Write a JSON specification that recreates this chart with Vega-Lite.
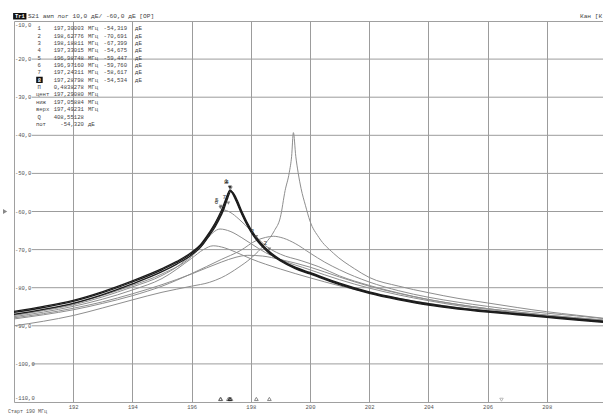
{
  "$schema": "https://vega.github.io/schema/vega-lite/v6.json",
  "width": 589,
  "height": 381,
  "autosize": {"type": "none"},
  "padding": {"left": 14, "top": 21, "right": 0, "bottom": 12},
  "background": "white",
  "config": {"view": {"stroke": "#a0a0a0", "strokeWidth": 1}, "font": "Liberation Mono", "text": {"font": "Liberation Mono"}},
  "datasets": {
    "curves": [
      {"s":"G5","f":190,"db":-87.9},{"s":"G5","f":191,"db":-86.8},{"s":"G5","f":192,"db":-85.4},{"s":"G5","f":193,"db":-83.7},{"s":"G5","f":194,"db":-81.6},{"s":"G5","f":195,"db":-79.2},{"s":"G5","f":196,"db":-76.4},{"s":"G5","f":197,"db":-73.3},{"s":"G5","f":197.5,"db":-72.0},{"s":"G5","f":197.9,"db":-71.5},{"s":"G5","f":198.4,"db":-71.7},{"s":"G5","f":199,"db":-72.6},{"s":"G5","f":200,"db":-74.6},{"s":"G5","f":201,"db":-77.2},{"s":"G5","f":202,"db":-79.6},{"s":"G5","f":203,"db":-81.5},{"s":"G5","f":204,"db":-83.1},{"s":"G5","f":205,"db":-84.4},{"s":"G5","f":206,"db":-85.5},{"s":"G5","f":207,"db":-86.4},{"s":"G5","f":208,"db":-87.2},{"s":"G5","f":209,"db":-87.9},{"s":"G5","f":209.9,"db":-88.5},
      {"s":"G4","f":190,"db":-88.2},{"s":"G4","f":191,"db":-87.1},{"s":"G4","f":192,"db":-85.8},{"s":"G4","f":193,"db":-84.1},{"s":"G4","f":194,"db":-82.1},{"s":"G4","f":195,"db":-79.6},{"s":"G4","f":196,"db":-76.3},{"s":"G4","f":197,"db":-72.6},{"s":"G4","f":197.64,"db":-70.3},{"s":"G4","f":198.19,"db":-67.6},{"s":"G4","f":198.5,"db":-66.8},{"s":"G4","f":198.76,"db":-66.5},{"s":"G4","f":199.1,"db":-67.0},{"s":"G4","f":199.5,"db":-68.4},{"s":"G4","f":200,"db":-70.9},{"s":"G4","f":200.5,"db":-73.3},{"s":"G4","f":201,"db":-75.3},{"s":"G4","f":202,"db":-78.5},{"s":"G4","f":203,"db":-80.8},{"s":"G4","f":204,"db":-82.5},{"s":"G4","f":205,"db":-83.8},{"s":"G4","f":206,"db":-84.9},{"s":"G4","f":207,"db":-85.9},{"s":"G4","f":208,"db":-86.7},{"s":"G4","f":209,"db":-87.4},{"s":"G4","f":209.9,"db":-88.1},
      {"s":"G3","f":190,"db":-87.6},{"s":"G3","f":191,"db":-86.4},{"s":"G3","f":192,"db":-84.9},{"s":"G3","f":193,"db":-83.0},{"s":"G3","f":194,"db":-80.6},{"s":"G3","f":195,"db":-77.6},{"s":"G3","f":196,"db":-72.3},{"s":"G3","f":196.4,"db":-70.0},{"s":"G3","f":196.73,"db":-69.0},{"s":"G3","f":197.1,"db":-69.5},{"s":"G3","f":197.5,"db":-70.7},{"s":"G3","f":198,"db":-72.4},{"s":"G3","f":199,"db":-75.1},{"s":"G3","f":200,"db":-77.4},{"s":"G3","f":201,"db":-79.5},{"s":"G3","f":202,"db":-81.3},{"s":"G3","f":203,"db":-82.8},{"s":"G3","f":204,"db":-84.1},{"s":"G3","f":205,"db":-85.2},{"s":"G3","f":206,"db":-86.1},{"s":"G3","f":207,"db":-86.9},{"s":"G3","f":208,"db":-87.6},{"s":"G3","f":209,"db":-88.3},{"s":"G3","f":209.9,"db":-88.9},
      {"s":"G2","f":190,"db":-87.3},{"s":"G2","f":191,"db":-86.0},{"s":"G2","f":192,"db":-84.5},{"s":"G2","f":193,"db":-82.4},{"s":"G2","f":194,"db":-79.8},{"s":"G2","f":195,"db":-76.8},{"s":"G2","f":195.6,"db":-74.0},{"s":"G2","f":196,"db":-71.3},{"s":"G2","f":196.5,"db":-67.2},{"s":"G2","f":196.96,"db":-64.6},{"s":"G2","f":197.3,"db":-65.2},{"s":"G2","f":197.7,"db":-66.9},{"s":"G2","f":198,"db":-68.4},{"s":"G2","f":198.5,"db":-70.8},{"s":"G2","f":199,"db":-72.6},{"s":"G2","f":200,"db":-75.3},{"s":"G2","f":201,"db":-77.9},{"s":"G2","f":202,"db":-80.1},{"s":"G2","f":203,"db":-81.9},{"s":"G2","f":204,"db":-83.4},{"s":"G2","f":205,"db":-84.7},{"s":"G2","f":206,"db":-85.7},{"s":"G2","f":207,"db":-86.6},{"s":"G2","f":208,"db":-87.4},{"s":"G2","f":209,"db":-88.1},{"s":"G2","f":209.9,"db":-88.7},
      {"s":"G1","f":190,"db":-87.0},{"s":"G1","f":191,"db":-85.8},{"s":"G1","f":192,"db":-84.2},{"s":"G1","f":193,"db":-82.0},{"s":"G1","f":194,"db":-79.4},{"s":"G1","f":195,"db":-76.4},{"s":"G1","f":196,"db":-71.8},{"s":"G1","f":196.5,"db":-67.4},{"s":"G1","f":196.8,"db":-63.0},{"s":"G1","f":197.07,"db":-59.6},{"s":"G1","f":197.3,"db":-60.2},{"s":"G1","f":197.6,"db":-62.0},{"s":"G1","f":198,"db":-65.0},{"s":"G1","f":198.5,"db":-69.0},{"s":"G1","f":199,"db":-71.2},{"s":"G1","f":199.7,"db":-72.9},{"s":"G1","f":200.3,"db":-74.5},{"s":"G1","f":201,"db":-76.9},{"s":"G1","f":202,"db":-79.4},{"s":"G1","f":203,"db":-81.4},{"s":"G1","f":204,"db":-83.1},{"s":"G1","f":205,"db":-84.4},{"s":"G1","f":206,"db":-85.5},{"s":"G1","f":207,"db":-86.4},{"s":"G1","f":208,"db":-87.2},{"s":"G1","f":209,"db":-87.9},{"s":"G1","f":209.9,"db":-88.5},
      {"s":"T","f":190,"db":-90.0},{"s":"T","f":191,"db":-88.8},{"s":"T","f":192,"db":-87.3},{"s":"T","f":193,"db":-85.3},{"s":"T","f":194,"db":-83.2},{"s":"T","f":195,"db":-81.2},{"s":"T","f":196,"db":-79.6},{"s":"T","f":196.6,"db":-78.6},{"s":"T","f":197,"db":-77.4},{"s":"T","f":197.6,"db":-74.6},{"s":"T","f":198,"db":-72.3},{"s":"T","f":198.5,"db":-68.3},{"s":"T","f":198.8,"db":-65.0},{"s":"T","f":199.0,"db":-61.5},{"s":"T","f":199.16,"db":-54.5},{"s":"T","f":199.3,"db":-49.8},{"s":"T","f":199.38,"db":-45.5},{"s":"T","f":199.44,"db":-39.3},{"s":"T","f":199.52,"db":-45.5},{"s":"T","f":199.6,"db":-49.8},{"s":"T","f":199.7,"db":-54.0},{"s":"T","f":199.85,"db":-58.5},{"s":"T","f":200.0,"db":-62.5},{"s":"T","f":200.3,"db":-66.8},{"s":"T","f":200.8,"db":-71.0},{"s":"T","f":201.5,"db":-75.0},{"s":"T","f":202,"db":-77.3},{"s":"T","f":203,"db":-79.6},{"s":"T","f":204,"db":-81.3},{"s":"T","f":205,"db":-82.8},{"s":"T","f":206,"db":-84.0},{"s":"T","f":207,"db":-85.2},{"s":"T","f":208,"db":-86.3},{"s":"T","f":209,"db":-87.2},{"s":"T","f":209.9,"db":-88.0},
      {"s":"M1","f":190,"db":-86.5},{"s":"M1","f":191,"db":-85.2},{"s":"M1","f":192,"db":-83.6},{"s":"M1","f":193,"db":-81.3},{"s":"M1","f":194,"db":-78.5},{"s":"M1","f":195,"db":-75.3},{"s":"M1","f":195.5,"db":-73.4},{"s":"M1","f":196,"db":-71.0},{"s":"M1","f":196.3,"db":-69.0},{"s":"M1","f":196.6,"db":-65.8},{"s":"M1","f":196.8,"db":-63.5},{"s":"M1","f":197.0,"db":-60.5},{"s":"M1","f":197.1,"db":-58.6},{"s":"M1","f":197.2,"db":-56.2},{"s":"M1","f":197.3,"db":-54.3},{"s":"M1","f":197.4,"db":-55.2},{"s":"M1","f":197.5,"db":-56.8},{"s":"M1","f":197.7,"db":-60.5},{"s":"M1","f":198.0,"db":-65.0},{"s":"M1","f":198.3,"db":-68.2},{"s":"M1","f":198.6,"db":-70.6},{"s":"M1","f":199.0,"db":-72.8},{"s":"M1","f":199.5,"db":-74.8},{"s":"M1","f":200,"db":-76.2},{"s":"M1","f":201,"db":-79.0},{"s":"M1","f":202,"db":-81.3},{"s":"M1","f":203,"db":-83.0},{"s":"M1","f":204,"db":-84.4},{"s":"M1","f":205,"db":-85.4},{"s":"M1","f":206,"db":-86.2},{"s":"M1","f":207,"db":-86.9},{"s":"M1","f":208,"db":-87.6},{"s":"M1","f":209,"db":-88.3},{"s":"M1","f":209.9,"db":-88.9},
      {"s":"M2","f":190,"db":-87.0},{"s":"M2","f":191,"db":-85.7},{"s":"M2","f":192,"db":-84.1},{"s":"M2","f":193,"db":-81.8},{"s":"M2","f":194,"db":-79.0},{"s":"M2","f":195,"db":-75.8},{"s":"M2","f":195.5,"db":-73.8},{"s":"M2","f":196,"db":-71.4},{"s":"M2","f":196.3,"db":-69.4},{"s":"M2","f":196.6,"db":-66.3},{"s":"M2","f":196.8,"db":-64.0},{"s":"M2","f":197.0,"db":-61.0},{"s":"M2","f":197.1,"db":-59.2},{"s":"M2","f":197.2,"db":-56.9},{"s":"M2","f":197.33,"db":-54.7},{"s":"M2","f":197.45,"db":-55.6},{"s":"M2","f":197.55,"db":-57.2},{"s":"M2","f":197.7,"db":-60.0},{"s":"M2","f":198.0,"db":-64.6},{"s":"M2","f":198.3,"db":-67.9},{"s":"M2","f":198.6,"db":-70.3},{"s":"M2","f":199.0,"db":-72.6},{"s":"M2","f":199.5,"db":-74.6},{"s":"M2","f":200,"db":-76.0},{"s":"M2","f":201,"db":-78.8},{"s":"M2","f":202,"db":-81.1},{"s":"M2","f":203,"db":-82.8},{"s":"M2","f":204,"db":-84.2},{"s":"M2","f":205,"db":-85.3},{"s":"M2","f":206,"db":-86.1},{"s":"M2","f":207,"db":-86.8},{"s":"M2","f":208,"db":-87.5},{"s":"M2","f":209,"db":-88.2},{"s":"M2","f":209.9,"db":-88.8},
      {"s":"M3","f":190,"db":-86.2},{"s":"M3","f":191,"db":-84.9},{"s":"M3","f":192,"db":-83.3},{"s":"M3","f":193,"db":-81.0},{"s":"M3","f":194,"db":-78.2},{"s":"M3","f":195,"db":-75.0},{"s":"M3","f":195.5,"db":-73.1},{"s":"M3","f":196,"db":-70.7},{"s":"M3","f":196.3,"db":-68.7},{"s":"M3","f":196.6,"db":-65.5},{"s":"M3","f":196.8,"db":-63.0},{"s":"M3","f":197.0,"db":-59.9},{"s":"M3","f":197.1,"db":-57.9},{"s":"M3","f":197.2,"db":-55.8},{"s":"M3","f":197.29,"db":-54.5},{"s":"M3","f":197.4,"db":-55.5},{"s":"M3","f":197.5,"db":-57.2},{"s":"M3","f":197.7,"db":-60.8},{"s":"M3","f":198.0,"db":-65.3},{"s":"M3","f":198.3,"db":-68.5},{"s":"M3","f":198.6,"db":-70.8},{"s":"M3","f":199.0,"db":-73.0},{"s":"M3","f":199.5,"db":-75.0},{"s":"M3","f":200,"db":-76.4},{"s":"M3","f":201,"db":-79.2},{"s":"M3","f":202,"db":-81.5},{"s":"M3","f":203,"db":-83.2},{"s":"M3","f":204,"db":-84.6},{"s":"M3","f":205,"db":-85.6},{"s":"M3","f":206,"db":-86.4},{"s":"M3","f":207,"db":-87.1},{"s":"M3","f":208,"db":-87.8},{"s":"M3","f":209,"db":-88.5},{"s":"M3","f":209.9,"db":-89.1}
    ],
    "markers": [
      {"m":"1","f":197.30003,"db":-54.319,"act":"n"},
      {"m":"2","f":198.62776,"db":-70.691,"act":"n"},
      {"m":"3","f":198.18811,"db":-67.399,"act":"n"},
      {"m":"4","f":197.33015,"db":-54.675,"act":"n"},
      {"m":"5","f":196.98748,"db":-59.447,"act":"n"},
      {"m":"6","f":196.9716,"db":-59.76,"act":"n"},
      {"m":"7","f":197.24311,"db":-58.617,"act":"n"},
      {"m":"8","f":197.28798,"db":-54.534,"act":"y"}
    ],
    "tleft": [
      {"f":190.79,"db":-11.92,"t":"1"},{"f":190.79,"db":-13.85,"t":"2"},{"f":190.79,"db":-15.77,"t":"3"},{"f":190.79,"db":-17.70,"t":"4"},{"f":190.79,"db":-19.63,"t":"5"},{"f":190.79,"db":-21.56,"t":"6"},{"f":190.79,"db":-23.49,"t":"7"},
      {"f":190.79,"db":-27.35,"t":"П"},{"f":190.74,"db":-29.28,"t":"цент"},{"f":190.74,"db":-31.21,"t":"ниж"},{"f":190.74,"db":-33.14,"t":"верх"},{"f":190.79,"db":-35.07,"t":"Q"},{"f":190.74,"db":-36.99,"t":"пот"},
      {"f":192.5,"db":-11.92,"t":"МГц"},{"f":192.5,"db":-13.85,"t":"МГц"},{"f":192.5,"db":-15.77,"t":"МГц"},{"f":192.5,"db":-17.70,"t":"МГц"},{"f":192.5,"db":-19.63,"t":"МГц"},{"f":192.5,"db":-21.56,"t":"МГц"},{"f":192.5,"db":-23.49,"t":"МГц"},{"f":192.5,"db":-25.42,"t":"МГц"},
      {"f":192.5,"db":-27.35,"t":"МГц"},{"f":192.5,"db":-29.28,"t":"МГц"},{"f":192.5,"db":-31.21,"t":"МГц"},{"f":192.5,"db":-33.14,"t":"МГц"},{"f":192.5,"db":-36.99,"t":"дБ"},
      {"f":194.09,"db":-11.92,"t":"дБ"},{"f":194.09,"db":-13.85,"t":"дБ"},{"f":194.09,"db":-15.77,"t":"дБ"},{"f":194.09,"db":-17.70,"t":"дБ"},{"f":194.09,"db":-19.63,"t":"дБ"},{"f":194.09,"db":-21.56,"t":"дБ"},{"f":194.09,"db":-23.49,"t":"дБ"},{"f":194.09,"db":-25.42,"t":"дБ"}
    ],
    "tright": [
      {"f":192.36,"db":-11.92,"t":"197,30003"},{"f":192.36,"db":-13.85,"t":"198,62776"},{"f":192.36,"db":-15.77,"t":"198,18811"},{"f":192.36,"db":-17.70,"t":"197,33015"},{"f":192.36,"db":-19.63,"t":"196,98748"},{"f":192.36,"db":-21.56,"t":"196,97160"},{"f":192.36,"db":-23.49,"t":"197,24311"},{"f":192.36,"db":-25.42,"t":"197,28798"},
      {"f":192.36,"db":-27.35,"t":"0,4838278"},{"f":192.36,"db":-29.28,"t":"197,29080"},{"f":192.36,"db":-31.21,"t":"197,05884"},{"f":192.36,"db":-33.14,"t":"197,49231"},{"f":192.36,"db":-35.07,"t":"408,55128"},{"f":192.36,"db":-36.99,"t":"-54,320"},
      {"f":193.82,"db":-11.92,"t":"-54,319"},{"f":193.82,"db":-13.85,"t":"-70,691"},{"f":193.82,"db":-15.77,"t":"-67,399"},{"f":193.82,"db":-17.70,"t":"-54,675"},{"f":193.82,"db":-19.63,"t":"-59,447"},{"f":193.82,"db":-21.56,"t":"-59,760"},{"f":193.82,"db":-23.49,"t":"-58,617"},{"f":193.82,"db":-25.42,"t":"-54,534"}
    ]
  },
  "encoding": {
    "x": {"field": "f", "type": "quantitative", "scale": {"domain": [190, 209.9], "nice": false, "zero": false},
      "axis": {"values": [192, 194, 196, 198, 200, 202, 204, 206, 208], "grid": true, "gridColor": "#9c9c9c", "gridWidth": 1, "ticks": false, "domain": false, "labelFontSize": 5.5, "labelFont": "Liberation Mono", "labelColor": "#555555", "labelPadding": 2, "title": null, "format": "d"}},
    "y": {"field": "db", "type": "quantitative", "scale": {"domain": [-110, -10], "nice": false, "zero": false}, "axis": null}
  },
  "layer": [
    {
      "data": {"values": [{"f":190.6,"f2":209.9,"db":-20},{"f":190.6,"f2":209.9,"db":-30},{"f":190.6,"f2":209.9,"db":-40},{"f":190.6,"f2":209.9,"db":-50},{"f":190.6,"f2":209.9,"db":-60},{"f":190.6,"f2":209.9,"db":-70},{"f":190.6,"f2":209.9,"db":-80},{"f":190.6,"f2":209.9,"db":-90},{"f":190.6,"f2":209.9,"db":-100}]},
      "mark": {"type": "rule", "color": "#9c9c9c", "strokeWidth": 1},
      "encoding": {"x2": {"field": "f2"}}
    },
    {
      "data": {"values": [{"f":190.03,"db":-11.05,"t":"-10,0"},{"f":190.03,"db":-20,"t":"-20,0"},{"f":190.03,"db":-30,"t":"-30,0"},{"f":190.03,"db":-40,"t":"-40,0"},{"f":190.03,"db":-50,"t":"-50,0"},{"f":190.03,"db":-60,"t":"-60,0"},{"f":190.03,"db":-70,"t":"-70,0"},{"f":190.03,"db":-80,"t":"-80,0"},{"f":190.03,"db":-90,"t":"-90,0"},{"f":190.03,"db":-100,"t":"-100,0"},{"f":190.03,"db":-108.95,"t":"-110,0"}]},
      "mark": {"type": "text", "align": "left", "baseline": "middle", "fontSize": 5.5, "color": "#555555"},
      "encoding": {"text": {"field": "t"}}
    },
    {
      "data": {"name": "curves"},
      "transform": [{"filter": "indexof(['M1','M2','M3'], datum.s) < 0"}],
      "mark": {"type": "line", "interpolate": "monotone", "color": "#8e8e8e", "strokeWidth": 1},
      "encoding": {"detail": {"field": "s"}}
    },
    {
      "data": {"name": "curves"},
      "transform": [{"filter": "indexof(['M1','M2','M3'], datum.s) >= 0"}],
      "mark": {"type": "line", "interpolate": "monotone", "color": "#1c1c1c", "strokeWidth": 1.3},
      "encoding": {"detail": {"field": "s"}}
    },
    {
      "data": {"name": "markers"},
      "mark": {"type": "point", "shape": "triangle-down", "size": 14, "filled": true, "yOffset": -3},
      "encoding": {"color": {"field": "act", "type": "nominal", "scale": {"domain": ["n", "y"], "range": ["#555555", "#111111"]}, "legend": null}}
    },
    {
      "data": {"name": "markers"},
      "mark": {"type": "text", "fontSize": 6, "color": "#333333", "dx": -4, "dy": -9},
      "encoding": {"text": {"field": "m"}}
    },
    {
      "data": {"name": "markers"},
      "mark": {"type": "point", "shape": "triangle-up", "size": 14, "filled": false, "strokeWidth": 1},
      "encoding": {"y": {"datum": -109.2, "type": "quantitative"}, "color": {"field": "act", "type": "nominal", "scale": {"domain": ["n", "y"], "range": ["#555555", "#111111"]}, "legend": null}}
    },
    {
      "data": {"values": [{"f": 206.47, "db": -109.4}]},
      "mark": {"type": "point", "shape": "triangle-down", "size": 12, "filled": false, "color": "#888888", "strokeWidth": 0.8}
    },
    {
      "data": {"values": [{"f": 189.7, "db": -60}]},
      "mark": {"type": "point", "shape": "triangle-right", "size": 24, "filled": true, "color": "#555555"}
    },
    {
      "data": {"values": [{"f": 190.75, "f2": 190.97, "db": -24.6, "db2": -26.25}, {"f": 189.97, "f2": 190.42, "db": -7.9, "db2": -9.6}]},
      "mark": {"type": "rect", "color": "#111111"},
      "encoding": {"x2": {"field": "f2"}, "y2": {"field": "db2"}}
    },
    {
      "data": {"values": [{"f": 190.86, "db": -25.42, "t": "8"}, {"f": 190.195, "db": -8.75, "t": "Tr1"}]},
      "mark": {"type": "text", "align": "center", "baseline": "middle", "fontSize": 5.4, "color": "#ffffff", "fontWeight": "bold"},
      "encoding": {"text": {"field": "t"}}
    },
    {
      "data": {"name": "tleft"},
      "mark": {"type": "text", "align": "left", "baseline": "middle", "fontSize": 5.6, "color": "#444444"},
      "encoding": {"text": {"field": "t"}}
    },
    {
      "data": {"name": "tright"},
      "mark": {"type": "text", "align": "right", "baseline": "middle", "fontSize": 5.6, "color": "#444444"},
      "encoding": {"text": {"field": "t"}}
    },
    {
      "data": {"values": [{"f": 190.47, "db": -8.7, "t": "S21 амп лог 10,0 дБ/ -60,0 дБ [ОР]"}, {"f": 209.12, "db": -8.7, "t": "Кан [К"}]},
      "mark": {"type": "text", "align": "left", "baseline": "middle", "fontSize": 6.2, "color": "#444444"},
      "encoding": {"text": {"field": "t"}}
    },
    {
      "data": {"values": [{"f": 189.8, "db": -112.3, "t": "Старт 190 МГц"}]},
      "mark": {"type": "text", "align": "left", "baseline": "middle", "fontSize": 5, "color": "#555555"},
      "encoding": {"text": {"field": "t"}}
    }
  ]
}
